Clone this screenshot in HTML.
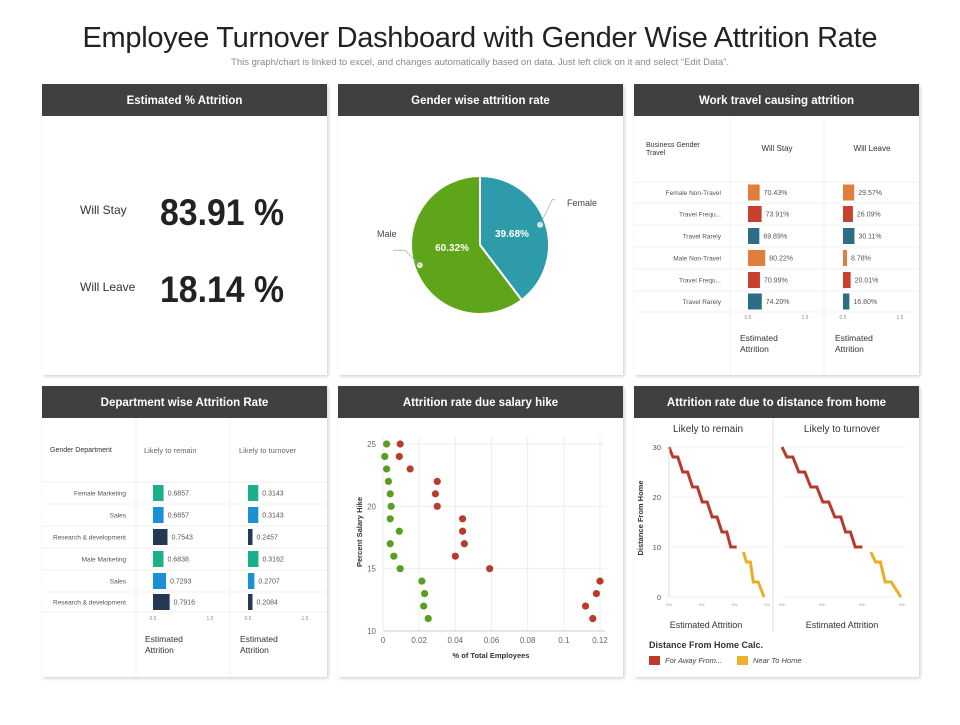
<!DOCTYPE html>
<html><head><meta charset="utf-8"><style>
body{margin:0;background:#fff;font-family:"Liberation Sans",sans-serif}
svg text{font-family:"Liberation Sans",sans-serif}
</style></head><body>
<svg id="s" width="960" height="720" viewBox="0 0 960 720" xmlns="http://www.w3.org/2000/svg">
<defs><filter id="sh" x="-5%" y="-5%" width="110%" height="110%"><feDropShadow dx="1.5" dy="1.5" stdDeviation="1.5" flood-color="#000" flood-opacity="0.18"/></filter></defs>
<text x="480" y="47" text-anchor="middle" font-size="29" fill="#222" textLength="795">Employee Turnover Dashboard with Gender Wise Attrition Rate</text>
<text x="480" y="65" text-anchor="middle" font-size="9.5" fill="#888">This graph/chart is linked to excel, and changes automatically based on data. Just left click on it and select “Edit Data”.</text>
<g id="panels"></g>
<g id="content"></g>
</svg>
<script>
// ---- data ----
const stayPct = ["83.91 %","18.14 %"];
const pieLabels = ["Female","Male"];
const pieValues = [39.68, 60.32];
const travelLabels = ["Female Non-Travel","Travel  Frequ...","Travel  Rarely","Male Non-Travel","Travel  Frequ...","Travel  Rarely"];
const travelStay = [0.7043,0.7391,0.6989,0.8022,0.7099,0.7420];
const travelLeave = [0.2957,0.2609,0.3011,0.0878,0.2001,0.1680];
const deptLabels = ["Female Marketing","Sales","Research & development","Male Marketing","Sales","Research & development"];
const deptStay = [0.6857,0.6857,0.7543,0.6838,0.7293,0.7916];
const deptLeave = [0.3143,0.3143,0.2457,0.3162,0.2707,0.2084];
const hikeY = [25,24,23,22,21,20,19,18,17,16,15,14,13,12,11];
const hikeGreen = [0.002,0.001,0.002,0.003,0.004,0.0045,0.004,0.009,0.004,0.006,0.0095,0.0215,0.023,0.0225,0.025];
const hikeRed = [0.0095,0.009,0.015,0.030,0.029,0.030,0.044,0.044,0.045,0.040,0.059,0.120,0.118,0.112,0.116];
const xTicks = [0,0.02,0.04,0.06,0.08,0.1,0.12];
const yTicks = [10,15,20,25];
const distFarX1 = [0,0.04,0.09,0.14,0.19,0.24,0.29,0.34,0.39,0.44,0.49,0.54,0.59,0.63,0.69];
const distFarD1 = [30,28,28,25,25,22,22,19,19,16,16,13,13,10,10];
const distNearX1 = [0.76,0.79,0.83,0.86,0.91,0.97];
const distNearD1 = [9,7,7,3,3,0];
const distFarX2 = [0,0.04,0.09,0.14,0.19,0.24,0.29,0.34,0.39,0.44,0.49,0.53,0.57,0.61,0.67];
const distFarD2 = [30,28,28,25,25,22,22,19,19,16,16,13,13,10,10];
const distNearX2 = [0.74,0.78,0.82,0.86,0.91,0.99];
const distNearD2 = [9,7,7,3,3,0];
const distTicks = [0,10,20,30];

const NS="http://www.w3.org/2000/svg";
const P=document.getElementById('panels'), C=document.getElementById('content');
function mk(par,tag,attrs,txt){const e=document.createElementNS(NS,tag);for(const k in attrs)e.setAttribute(k,attrs[k]);if(txt!==undefined)e.textContent=txt;par.appendChild(e);return e;}

// panels
const panelDefs=[[42,84,"Estimated % Attrition","estimated-attrition-panel"],[338,84,"Gender wise attrition rate","gender-attrition-panel"],[634,84,"Work travel causing attrition","work-travel-panel"],
[42,386,"Department wise Attrition Rate","department-attrition-panel"],[338,386,"Attrition rate due salary hike","salary-hike-panel"],[634,386,"Attrition rate due to distance from home","distance-panel"]];
panelDefs.forEach(d=>{
 const g=mk(P,'g',{});
 
 
 mk(g,'rect',{x:d[0],y:d[1],width:285,height:291,fill:'#fff',filter:'url(#sh)'});
 const h=mk(g,'rect',{x:d[0],y:d[1],width:285,height:32,fill:'#404040'});
 
 
 const t=mk(g,'text',{x:d[0]+142.5,y:d[1]+20,'text-anchor':'middle','font-size':11.5,'font-weight':'bold',fill:'#fff'},d[2]);
 
 
});

// panel 1
[["Will Stay",215,stayPct[0]],["Will Leave",292,stayPct[1]]].forEach((r,i)=>{
 const a=mk(C,'text',{x:80,y:r[1]-1,'font-size':12,fill:'#333'},r[0]);
 
 
 const b=mk(C,'text',{x:160,y:r[1]+10,'font-size':37,'font-weight':'bold',fill:'#222',textLength:124,lengthAdjust:'spacingAndGlyphs'},r[2]);
 
 
});

// pie
(function(){
 const cx=480,cy=245,r=69,tot=pieValues.reduce((a,b)=>a+b,0);
 const cols=['#2e9bab','#5ea51a'];
 let a0=-Math.PI/2;
 pieValues.forEach((v,i)=>{
  const a1=a0+v/tot*2*Math.PI;
  const x0=cx+r*Math.cos(a0),y0=cy+r*Math.sin(a0),x1=cx+r*Math.cos(a1),y1=cy+r*Math.sin(a1);
  const p=mk(C,'path',{d:`M${cx},${cy}L${x0},${y0}A${r},${r} 0 ${a1-a0>Math.PI?1:0} 1 ${x1},${y1}Z`,fill:cols[i],stroke:'#fff','stroke-width':2});
  
  
  const am=(a0+a1)/2;
  const lx=cx+r*0.55*Math.cos(am),ly=cy+r*0.55*Math.sin(am);
  const t=mk(C,'text',{x:lx+(i?8:-4),y:ly+(i?-6:4),'text-anchor':'middle','font-size':10,'font-weight':'bold',fill:'#fff'},v.toFixed(2)+'%');
  
  
  const ex=cx+r*0.92*Math.cos(am),ey=cy+r*0.92*Math.sin(am);
  mk(C,'circle',{cx:ex,cy:ey,r:3,fill:'#fff',opacity:0.8});
  const ox=i?cx-r-8:cx+r+6;
  mk(C,'polyline',{points:`${ex},${ey} ${i?ex-15:ex+12},${i?ey-15:ey-25} ${ox+(i?-10:0)},${i?ey-15:ey-25}`,fill:'none',stroke:'#aaa','stroke-width':0.7});
  const l=mk(C,'text',{x:i?377:567,y:i?237:206,'font-size':9,fill:'#444'},pieLabels[i]);
  
  
  a0=a1;
 });
})();

// generic table-bar chart
function tableChart(o){
 const g=mk(C,'g',{});
 
 
 o.div.forEach(x=>mk(g,'line',{x1:x,x2:x,y1:o.top,y2:o.bottom,stroke:'#f0f0f0'}));
 o.rows.forEach(y=>mk(g,'line',{x1:o.left,x2:o.right,y1:y,y2:y,stroke:'#f2f2f2'}));
 mk(g,'text',{x:o.hx,y:o.hy,'font-size':7,fill:'#333'},o.h0);
 if(o.h0b)mk(g,'text',{x:o.hx,y:o.hy+8,'font-size':7,fill:'#333'},o.h0b);
 o.heads.forEach((h,j)=>mk(g,'text',{x:o.headX[j],y:o.headY,'font-size':o.hfs,fill:o.hcol,'text-anchor':o.hanchor},h));
 o.labels.forEach((lb,i)=>{
  const ym=(o.rows[i]+o.rows[i+1])/2;
  mk(g,'text',{x:o.labelX,y:ym+2.5,'font-size':6.5,fill:'#555','text-anchor':'end'},lb);
  [o.a,o.b].forEach((arr,j)=>{
   const w=o.scale[j](arr[i]);
   const b=mk(g,'rect',{x:o.barX[j],y:ym-8,width:w,height:16,fill:o.colors[i%3]});
   
   
   mk(g,'text',{x:o.barX[j]+w+4,y:ym+2.5,'font-size':7,fill:'#555'},o.fmt(arr[i]));
  });
 });
 o.barX.forEach(x=>{
  mk(g,'text',{x:x,y:o.tickY,'font-size':5,fill:'#888','text-anchor':'middle'},'0.5');
  mk(g,'text',{x:x+57,y:o.tickY,'font-size':5,fill:'#888','text-anchor':'middle'},'1.5');
  mk(g,'text',{x:x-8,y:o.tickY+22,'font-size':8.5,fill:'#333'},'Estimated');
  mk(g,'text',{x:x-8,y:o.tickY+33,'font-size':8.5,fill:'#333'},'Attrition');
 });
}
tableChart({name:'work-travel-table',div:[730,824],top:117,bottom:375,rows:[182,203,225,247,269,291,312],left:634,right:918,
 hx:646,hy:147,h0:'Business  Gender',h0b:'Travel',heads:['Will Stay','Will Leave'],headX:[777,872],headY:151,hfs:8,hcol:'#333',hanchor:'middle',
 labels:travelLabels,labelX:721,a:travelStay,b:travelLeave,barX:[748,843],colors:['#e07e3c','#c8412f','#2e6d86'],
 scale:[v=>(v-0.5)*57,v=>Math.max(4,v*38)],fmt:v=>(v*100).toFixed(2)+'%',tickY:319});
tableChart({name:'department-table',div:[136,230],top:418,bottom:677,rows:[482,504,526,548,570,592,612],left:42,right:327,
 hx:50,hy:452,h0:'Gender  Department',heads:['Likely to remain','Likely to turnover'],headX:[144,239],headY:453,hfs:7.5,hcol:'#666',hanchor:'start',
 labels:deptLabels,labelX:126,a:deptStay,b:deptLeave,barX:[153,248],colors:['#1baf8c','#1c8fd6','#233a52'],
 scale:[v=>(v-0.5)*57,v=>Math.max(4.5,(v-0.2)*90)],fmt:v=>v.toFixed(4),tickY:620});

// scatter
(function(){
 const x0=383,x1=600,y0=631,y1=444;
 const sx=v=>x0+(v-0)/(0.12)*(x1-x0), sy=v=>y0-(v-10)/15*(y0-y1);
 const g=mk(C,'g',{});
 
 
 xTicks.forEach(t=>{mk(g,'line',{x1:sx(t),x2:sx(t),y1:y1-8,y2:y0,stroke:'#eee'});mk(g,'text',{x:sx(t),y:y0+12,'font-size':8,fill:'#666','text-anchor':'middle'},String(t));});
 yTicks.forEach(t=>{mk(g,'line',{x1:x0,x2:x1+5,y1:sy(t),y2:sy(t),stroke:'#eee'});mk(g,'text',{x:x0-7,y:sy(t)+3,'font-size':8,fill:'#666','text-anchor':'end'},String(t));});
 mk(g,'line',{x1:x0,x2:x1+5,y1:y0,y2:y0,stroke:'#ccc'});
 mk(g,'text',{x:491,y:658,'font-size':7.5,'font-weight':'bold',fill:'#333','text-anchor':'middle'},'% of Total Employees');
 mk(g,'text',{x:362,y:532,'font-size':7.5,'font-weight':'bold',fill:'#333','text-anchor':'middle',transform:'rotate(-90 362 532)'},'Percent  Salary  Hike');
 hikeY.forEach((y,i)=>{
  const a=mk(g,'circle',{cx:sx(hikeGreen[i]),cy:sy(y),r:3.6,fill:'#5a9e1f'});
  
  
  const b=mk(g,'circle',{cx:sx(hikeRed[i]),cy:sy(y),r:3.6,fill:'#b73c2c'});
  
  
 });
})();

// distance
(function(){
 const g=mk(C,'g',{});
 
 
 const y0=597,y1=447, sy=d=>y0-d/30*(y0-y1);
 mk(g,'line',{x1:773,x2:773,y1:418,y2:632,stroke:'#ddd'});
 [[669,767,'Likely to remain',distFarX1,distFarD1,distNearX1,distNearD1],[782,902,'Likely to turnover',distFarX2,distFarD2,distNearX2,distNearD2]].forEach((c,k)=>{
  const sx=v=>c[0]+v*(c[1]-c[0]);
  mk(g,'text',{x:(c[0]+c[1])/2-(k?0:10),y:432,'font-size':10,fill:'#333','text-anchor':'middle'},c[2]);
  distTicks.forEach(t=>{mk(g,'line',{x1:c[0],x2:c[1]+3,y1:sy(t),y2:sy(t),stroke:'#f0f0f0'});
   if(!k)mk(g,'text',{x:661,y:sy(t)+3,'font-size':7.5,fill:'#555','text-anchor':'end'},String(t));});
  [0,1/3,2/3,1].forEach(f=>mk(g,'text',{x:sx(f),y:y0+9,'font-size':4,fill:'#999','text-anchor':'middle'},'0%'));
  mk(g,'text',{x:(c[0]+c[1])/2-(k?0:12),y:628,'font-size':9,fill:'#333','text-anchor':'middle'},'Estimated Attrition');
  const pf=c[3].map((x,i)=>sx(x)+','+sy(c[4][i])).join(' ');
  const a=mk(g,'polyline',{points:pf,fill:'none',stroke:'#b83a2c','stroke-width':3});
  
  
  const pn=c[5].map((x,i)=>sx(x)+','+sy(c[6][i])).join(' ');
  const b=mk(g,'polyline',{points:pn,fill:'none',stroke:'#e9ad2a','stroke-width':3});
  
  
 });
 mk(g,'line',{x1:669,x2:669,y1:447,y2:597,stroke:'#ddd'});
 mk(g,'text',{x:643,y:518,'font-size':7.5,'font-weight':'bold',fill:'#333','text-anchor':'middle',transform:'rotate(-90 643 518)'},'Distance  From Home');
 mk(g,'text',{x:649,y:648,'font-size':9,'font-weight':'bold',fill:'#333'},'Distance From Home Calc.');
 const l1=mk(g,'rect',{x:649,y:656,width:11,height:9,fill:'#c0392b'});
 
 
 mk(g,'text',{x:665,y:663,'font-size':7.5,'font-style':'italic',fill:'#444'},'For Away From...');
 const l2=mk(g,'rect',{x:737,y:656,width:11,height:9,fill:'#efb12b'});
 
 
 mk(g,'text',{x:753,y:663,'font-size':7.5,'font-style':'italic',fill:'#444'},'Near To Home');
})();
</script>
</body></html>
